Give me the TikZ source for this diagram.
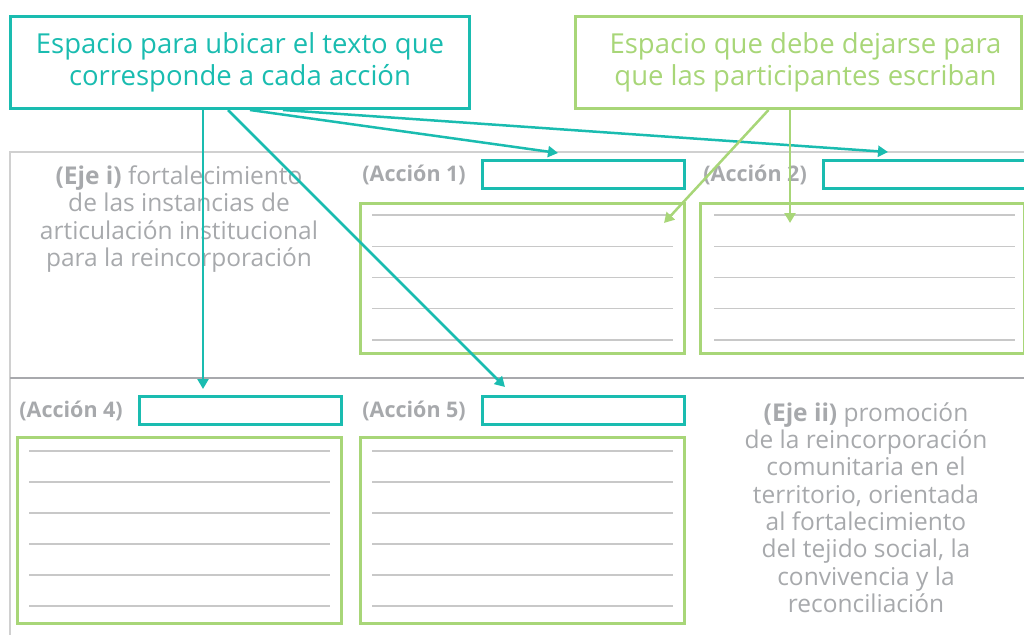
\documentclass[tikz,border=0pt]{standalone}
\usepackage{fontspec}
\setmainfont{Open Sans}
\usetikzlibrary{positioning, arrows.meta}

\definecolor{tealc}{RGB}{26,188,176}
\definecolor{leaf}{RGB}{168,214,120}
\definecolor{framegray}{RGB}{208,208,208}
\definecolor{divgray}{RGB}{168,169,173}
\definecolor{inkgray}{RGB}{167,169,172}
\definecolor{rulegray}{RGB}{200,200,200}

\tikzset{
  callout/.style={draw, line width=3pt, minimum height=92pt, align=center,
    font=\fontsize{27.5}{32}\selectfont, inner sep=0pt},
  titlebox/.style={draw=tealc, line width=3pt, minimum width=202pt, minimum height=28pt, inner sep=0pt},
  writebox/.style={draw=leaf, line width=3pt, minimum width=324pt, inner sep=0pt},
  actlabel/.style={text=inkgray, font=\fontsize{21.5}{24}\selectfont\bfseries, inner sep=0pt},
  axistext/.style={text=inkgray, align=center, font=\fontsize{24.5}{27.3}\selectfont, inner sep=0pt},
  pointer/.style={line width=2.5pt, -{Triangle[length=10pt,width=11pt]}}
}

\begin{document}
\begin{tikzpicture}[x=1pt, y=-1pt]
    \useasboundingbox (0,0) rectangle (1024,634);
    \clip (0,0) rectangle (1024,634);

    %Frame
    \draw[framegray, line width=2pt] (1024,152) -- (10,152) -- (10,640);
    \draw[divgray, line width=2.5pt] (10,378) -- (1030,378);

    %Axis texts
    \node[axistext] (ejei) at (179,219) {\textbf{(Eje i)} fortalecimiento\\de las instancias de\\articulación institucional\\para la reincorporación};
    \node[axistext] (ejeii) at (866,507.5) {\textbf{(Eje ii)} promoción\\de la reincorporación\\comunitaria en el\\territorio, orientada\\al fortalecimiento\\del tejido social, la\\convivencia y la\\reconciliación};

    %Action title boxes and labels
    \node[titlebox] (t1) at (583.5,174.5) {};
    \node[titlebox] (t2) at (924.5,174.5) {};
    \node[titlebox] (t4) at (240.5,410.5) {};
    \node[titlebox] (t5) at (583.5,410.5) {};
    \node[actlabel, left=15pt of t1] (l1) {(Acción 1)};
    \node[actlabel, left=15pt of t2] (l2) {(Acción 2)};
    \node[actlabel, left=15pt of t4] (l4) {(Acción 4)};
    \node[actlabel, left=15pt of t5] (l5) {(Acción 5)};

    %Writing boxes
    \node[writebox, minimum height=150pt] (w1) at (522.5,278.5) {};
    \node[writebox, minimum height=150pt] (w2) at (862.5,278.5) {};
    \node[writebox, minimum height=186pt] (w4) at (179,530.5) {};
    \node[writebox, minimum height=186pt] (w5) at (522.5,530.5) {};

    %Writing lines
    \foreach \y in {215,246.25,...,341}
    {
      \draw[rulegray, line width=1.2pt] (372,\y) -- (673,\y);
      \draw[rulegray, line width=1.2pt] (714,\y) -- (1015,\y);
    }
    \foreach \y in {451,482,...,607}
    {
      \draw[rulegray, line width=2pt] (29,\y) -- (330,\y);
      \draw[rulegray, line width=2pt] (372,\y) -- (673,\y);
    }

    %Callouts
    \node[callout, draw=tealc, text=tealc, minimum width=459pt] (cA) at (240,62.5)
      {Espacio para ubicar el texto que\\corresponde a cada acción};
    \node[callout, draw=leaf, text=leaf, minimum width=446pt] (cB) at (798.5,62.5)
      {\hspace*{14pt}Espacio que debe dejarse para\\\hspace*{14pt}que las participantes escriban};

    %Arrow ends
    \coordinate (e4) at (203,389);
    \coordinate (e5) at (505,387);
    \coordinate (e1) at (558,153);
    \coordinate (e2) at (888,152);
    \coordinate (g1) at (664,223);
    \coordinate (g2) at (790,223);

    %Pointers
    \draw[pointer, tealc] ([xshift=-37pt]cA.south) -- (e4);
    \draw[pointer, tealc] ([xshift=-12pt]cA.south) -- (e5);
    \draw[pointer, tealc] ([xshift=10pt]cA.south) -- (e1);
    \draw[pointer, tealc] ([xshift=43pt]cA.south) -- (e2);
    \draw[pointer, leaf] ([xshift=-30pt]cB.south) -- (g1);
    \draw[pointer, leaf] (cB.south -| g2) -- (g2);

\end{tikzpicture}
\end{document}
